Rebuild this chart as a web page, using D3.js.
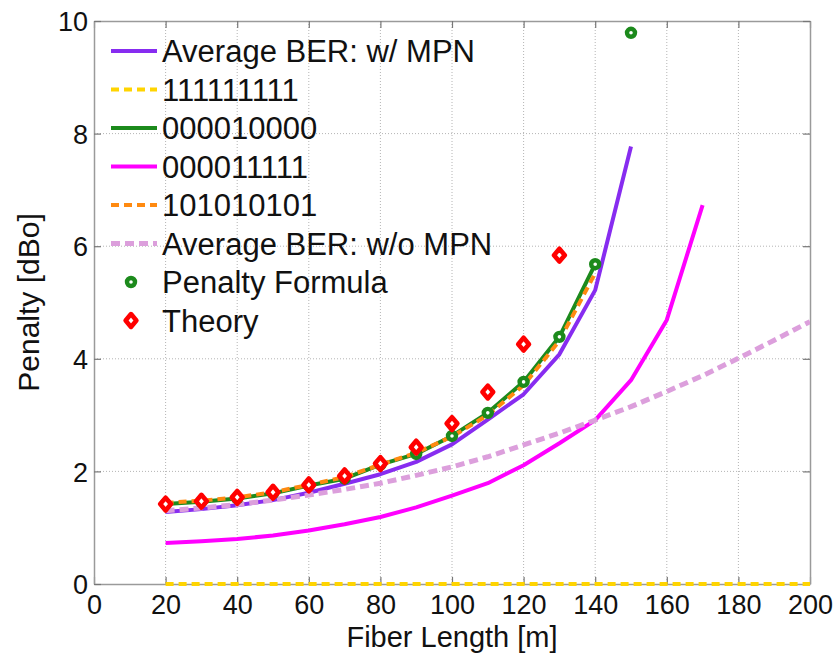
<!DOCTYPE html>
<html>
<head>
<meta charset="utf-8">
<script src="https://cdn.jsdelivr.net/npm/d3@7"></script>
<style>
  html, body { margin: 0; padding: 0; background: #fff; }
  svg { display: block; font-family: "Liberation Sans", Arial, sans-serif; }
</style>
</head>
<body>
<svg id="chart" width="837" height="656"></svg>
<script>
// Fiber lengths (m) at which each curve was evaluated
const len20to150 = [20, 30, 40, 50, 60, 70, 80, 90, 100, 110, 120, 130, 140, 150];
const len20to140 = [20, 30, 40, 50, 60, 70, 80, 90, 100, 110, 120, 130, 140];
const len20to130 = [20, 30, 40, 50, 60, 70, 80, 90, 100, 110, 120, 130];
const len20to170 = [20, 30, 40, 50, 60, 70, 80, 90, 100, 110, 120, 130, 140, 150, 160, 170];
const len20to200 = [20, 30, 40, 50, 60, 70, 80, 90, 100, 110, 120, 130, 140, 150, 160, 170, 180, 190, 200];

// Penalty values (dBo)
const avgBerMpn   = [1.28, 1.33, 1.40, 1.49, 1.62, 1.78, 1.95, 2.17, 2.48, 2.92, 3.37, 4.08, 5.22, 7.77];
const pat111111111 = [0, 0, 0, 0, 0, 0, 0, 0, 0, 0, 0, 0, 0, 0, 0, 0, 0, 0, 0];
const pat000010000 = [1.42, 1.46, 1.52, 1.61, 1.75, 1.87, 2.12, 2.31, 2.63, 3.04, 3.59, 4.39, 5.68];
const pat000011111 = [0.73, 0.76, 0.80, 0.86, 0.95, 1.06, 1.19, 1.36, 1.57, 1.79, 2.11, 2.50, 2.91, 3.62, 4.69, 6.73];
const pat101010101 = [1.44, 1.48, 1.54, 1.63, 1.76, 1.90, 2.12, 2.33, 2.62, 3.00, 3.53, 4.32, 5.52];
const avgBerNoMpn = [1.30, 1.35, 1.41, 1.49, 1.58, 1.68, 1.79, 1.93, 2.08, 2.26, 2.47, 2.68, 2.91, 3.15, 3.42, 3.70, 4.01, 4.33, 4.66];
const penaltyFormula = [1.42, 1.46, 1.52, 1.61, 1.75, 1.87, 2.12, 2.31, 2.63, 3.04, 3.59, 4.39, 5.68, 9.79];
const theory = [1.42, 1.47, 1.54, 1.63, 1.76, 1.92, 2.14, 2.43, 2.85, 3.41, 4.26, 5.84];

const xTicks = [0, 20, 40, 60, 80, 100, 120, 140, 160, 180, 200];
const yTicks = [0, 2, 4, 6, 8, 10];

const zip = (xs, ys) => xs.map((x, i) => [x, ys[i]]);

const lineSeries = [
  { name: "Average BER: w/ MPN", data: zip(len20to150, avgBerMpn), color: "#872cf0", width: 4, dash: null },
  { name: "111111111", data: zip(len20to200, pat111111111), color: "#ffd400", width: 4, dash: "8,5" },
  { name: "000010000", data: zip(len20to140, pat000010000), color: "#1c8a1c", width: 4, dash: null },
  { name: "000011111", data: zip(len20to170, pat000011111), color: "#ff00ff", width: 4, dash: null },
  { name: "101010101", data: zip(len20to140, pat101010101), color: "#ff8a10", width: 4, dash: "8,5" },
  { name: "Average BER: w/o MPN", data: zip(len20to200, avgBerNoMpn), color: "#dc9fdc", width: 5, dash: "9,5" }
];
const markerSeries = [
  { name: "Penalty Formula", data: zip(len20to150, penaltyFormula), color: "#1c8a1c", shape: "circle" },
  { name: "Theory", data: zip(len20to130, theory), color: "#ff0000", shape: "diamond" }
];

const svg = d3.select("#chart");
const plot = { left: 94, right: 810, top: 21, bottom: 584 };

const x = d3.scaleLinear().domain([0, 200]).range([plot.left, plot.right]);
const y = d3.scaleLinear().domain([0, 10]).range([plot.bottom, plot.top]);

const axisColor = "#9a9a9a";
const gridColor = "#b4b4b4";

// dotted grid
const grid = svg.append("g");
grid.selectAll("line.gx").data(xTicks.filter(t => t > 0 && t < 200)).enter()
  .append("line")
  .attr("x1", d => x(d)).attr("x2", d => x(d))
  .attr("y1", plot.top).attr("y2", plot.bottom)
  .attr("stroke", gridColor).attr("stroke-width", 1).attr("stroke-dasharray", "1,2");
grid.selectAll("line.gy").data(yTicks.filter(t => t > 0 && t < 10)).enter()
  .append("line")
  .attr("x1", plot.left).attr("x2", plot.right)
  .attr("y1", d => y(d)).attr("y2", d => y(d))
  .attr("stroke", gridColor).attr("stroke-width", 1).attr("stroke-dasharray", "1,2");

// axes with inward ticks on all four sides
const tickLen = 7;
const fontSize = 27;
const axB = svg.append("g").attr("transform", `translate(0,${plot.bottom})`)
  .call(d3.axisBottom(x).tickValues(xTicks).tickSizeInner(-tickLen).tickSizeOuter(0).tickPadding(11));
const axT = svg.append("g").attr("transform", `translate(0,${plot.top})`)
  .call(d3.axisTop(x).tickValues(xTicks).tickSizeInner(-tickLen).tickSizeOuter(0).tickFormat(""));
const axL = svg.append("g").attr("transform", `translate(${plot.left},0)`)
  .call(d3.axisLeft(y).tickValues(yTicks).tickSizeInner(-tickLen).tickSizeOuter(0).tickPadding(6));
const axR = svg.append("g").attr("transform", `translate(${plot.right},0)`)
  .call(d3.axisRight(y).tickValues(yTicks).tickSizeInner(-tickLen).tickSizeOuter(0).tickFormat(""));

[axB, axT, axL, axR].forEach(g => {
  g.select(".domain").attr("stroke", axisColor).attr("stroke-width", 1.5);
  g.selectAll(".tick line").attr("stroke", "#777").attr("stroke-width", 1.2);
  g.selectAll(".tick text")
    .attr("fill", "#111")
    .attr("font-size", fontSize)
    .attr("font-family", "'Liberation Sans', Arial, sans-serif");
});
axB.selectAll(".tick text").attr("dy", "0.71em");
axL.selectAll(".tick text").attr("dy", "0.36em");

// axis titles
svg.append("text")
  .attr("x", (plot.left + plot.right) / 2).attr("y", 647)
  .attr("text-anchor", "middle").attr("font-size", 29).attr("fill", "#111")
  .text("Fiber Length [m]");
svg.append("text")
  .attr("transform", `translate(39,${(plot.top + plot.bottom) / 2}) rotate(-90)`)
  .attr("text-anchor", "middle").attr("font-size", 30).attr("fill", "#111")
  .text("Penalty [dBo]");

// data lines
svg.append("clipPath").attr("id", "plotClip")
  .append("rect").attr("x", plot.left).attr("y", plot.top - 2)
  .attr("width", plot.right - plot.left).attr("height", plot.bottom - plot.top + 4);

const line = d3.line().x(d => x(d[0])).y(d => y(d[1]));
const lines = svg.append("g").attr("clip-path", "url(#plotClip)");
lineSeries.forEach(s => {
  lines.append("path")
    .datum(s.data)
    .attr("d", line)
    .attr("fill", "none")
    .attr("stroke", s.color)
    .attr("stroke-width", s.width)
    .attr("stroke-linejoin", "round")
    .attr("stroke-dasharray", s.dash);
});

// markers
function drawMarker(g, shape, cx, cy, color) {
  if (shape === "circle") {
    g.append("circle").attr("cx", cx).attr("cy", cy).attr("r", 4)
      .attr("fill", "#fff").attr("stroke", color).attr("stroke-width", 4.4);
  } else {
    const r = 6.4, w = 5.4;
    g.append("path")
      .attr("d", `M${cx},${cy - r}L${cx + w},${cy}L${cx},${cy + r}L${cx - w},${cy}Z`)
      .attr("fill", "#fff").attr("stroke", color).attr("stroke-width", 4.6)
      .attr("stroke-linejoin", "round");
  }
}
const marks = svg.append("g");
markerSeries.forEach(s => {
  s.data.forEach(d => drawMarker(marks, s.shape, x(d[0]), y(d[1]), s.color));
});

// legend (no frame)
const legend = svg.append("g");
const legX0 = 111, legX1 = 157, legTextX = 162, legY0 = 51, legStep = 38.5;
const legendItems = lineSeries.map(s => ({ ...s, kind: "line" }))
  .concat(markerSeries.map(s => ({ ...s, kind: "marker" })));
legendItems.forEach((s, i) => {
  const cy = legY0 + i * legStep;
  if (s.kind === "line") {
    legend.append("line")
      .attr("x1", legX0).attr("x2", legX1).attr("y1", cy).attr("y2", cy)
      .attr("stroke", s.color).attr("stroke-width", s.width)
      .attr("stroke-dasharray", s.dash);
  } else {
    drawMarker(legend, s.shape, (legX0 + legX1) / 2 - 3, cy, s.color);
  }
  legend.append("text")
    .attr("x", legTextX).attr("y", cy + 11)
    .attr("font-size", 31).attr("fill", "#111")
    .text(s.name);
});
</script>
</body>
</html>
